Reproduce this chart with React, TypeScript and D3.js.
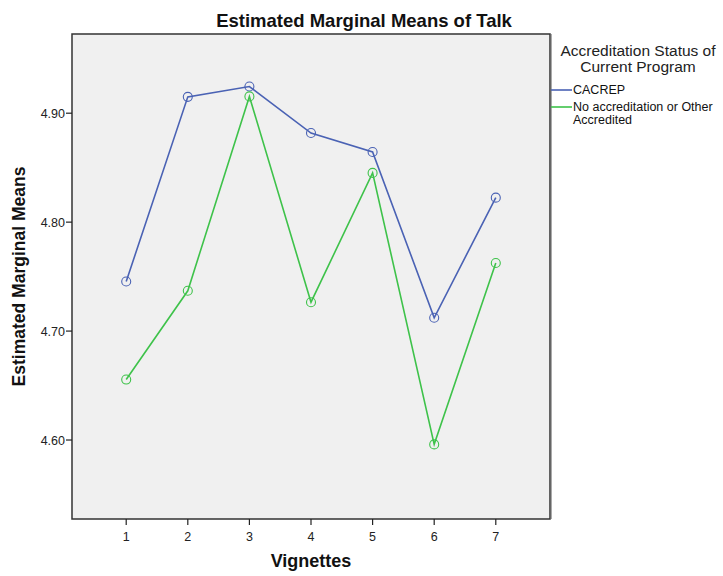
import React from "react";
import * as d3 from "d3";

const vignettes = [1, 2, 3, 4, 5, 6, 7];
const cacrep = [4.7455, 4.915, 4.9245, 4.8818, 4.8644, 4.7122, 4.8225];
const other = [4.6555, 4.737, 4.9154, 4.7265, 4.8452, 4.596, 4.7625];
const yTicks = [4.6, 4.7, 4.8, 4.9];
const seriesNames = ["CACREP", "No accreditation or Other|Accredited"];
const seriesColors = ["#4a62b4", "#3ec24a"];

const W = 723;
const H = 576;
const plot = { left: 72, right: 550, top: 34, bottom: 519 };

export default function App() {
  const x = d3.scaleLinear().domain([0.12, 7.88]).range([plot.left, plot.right]);
  const y = d3.scaleLinear().domain([4.5275, 4.9727]).range([plot.bottom, plot.top]);
  const line = d3
    .line<number>()
    .x((_, i) => x(vignettes[i]))
    .y((d) => y(d));
  const series = [cacrep, other];
  const font = "'Liberation Sans', Arial, sans-serif";
  return (
    <svg
      width={W}
      height={H}
      style={{ position: "absolute", left: 0, top: 0, background: "#fff" }}
      fontFamily={font}
    >
      <rect
        x={plot.left}
        y={plot.top}
        width={plot.right - plot.left}
        height={plot.bottom - plot.top}
        fill="#f0f0f0"
        stroke="#333"
        strokeWidth={1.5}
      />
      <line x1={plot.right + 1.5} x2={plot.right + 1.5} y1={plot.top} y2={plot.bottom} stroke="#aaa" strokeWidth={1} />
      {series.map((s, si) => (
        <g key={si}>
          <path d={line(s) || ""} fill="none" stroke={seriesColors[si]} strokeWidth={1.6} />
          {s.map((v, i) => (
            <circle
              key={i}
              cx={x(vignettes[i])}
              cy={y(v)}
              r={4.5}
              fill="none"
              stroke={seriesColors[si]}
              strokeWidth={1.1}
            />
          ))}
        </g>
      ))}
      {yTicks.map((t) => (
        <g key={t}>
          <line x1={plot.left - 6} x2={plot.left} y1={y(t)} y2={y(t)} stroke="#222" strokeWidth={1.2} />
          <text x={plot.left - 7} y={y(t) + 4.5} textAnchor="end" fontSize={12.5} fill="#222">
            {t.toFixed(2)}
          </text>
        </g>
      ))}
      {vignettes.map((v) => (
        <g key={v}>
          <line x1={x(v)} x2={x(v)} y1={plot.bottom} y2={plot.bottom + 6} stroke="#222" strokeWidth={1.2} />
          <text x={x(v)} y={plot.bottom + 22} textAnchor="middle" fontSize={12.5} fill="#222">
            {v}
          </text>
        </g>
      ))}
      <text x={364} y={27} textAnchor="middle" fontSize={18.5} fontWeight="bold" fill="#111">
        Estimated Marginal Means of Talk
      </text>
      <text x={(plot.left + plot.right) / 2} y={567} textAnchor="middle" fontSize={18} fontWeight="bold" fill="#111">
        Vignettes
      </text>
      <text
        transform={`translate(25, ${(plot.top + plot.bottom) / 2}) rotate(-90)`}
        textAnchor="middle"
        fontSize={17.5}
        fontWeight="bold"
        fill="#111"
      >
        Estimated Marginal Means
      </text>
      <text x={638} y={56} textAnchor="middle" fontSize={15.5} fill="#222">
        Accreditation Status of
      </text>
      <text x={638} y={72} textAnchor="middle" fontSize={15.5} fill="#222">
        Current Program
      </text>
      {seriesNames.map((n, i) => {
        const ly = 90 + i * 17;
        const parts = n.split("|");
        return (
          <g key={n}>
            <line x1={551} x2={572} y1={ly} y2={ly} stroke={seriesColors[i]} strokeWidth={1.6} />
            {parts.map((p, j) => (
              <text key={j} x={573} y={ly + 4 + j * 13} fontSize={12.5} fill="#111">
                {p}
              </text>
            ))}
          </g>
        );
      })}
    </svg>
  );
}
